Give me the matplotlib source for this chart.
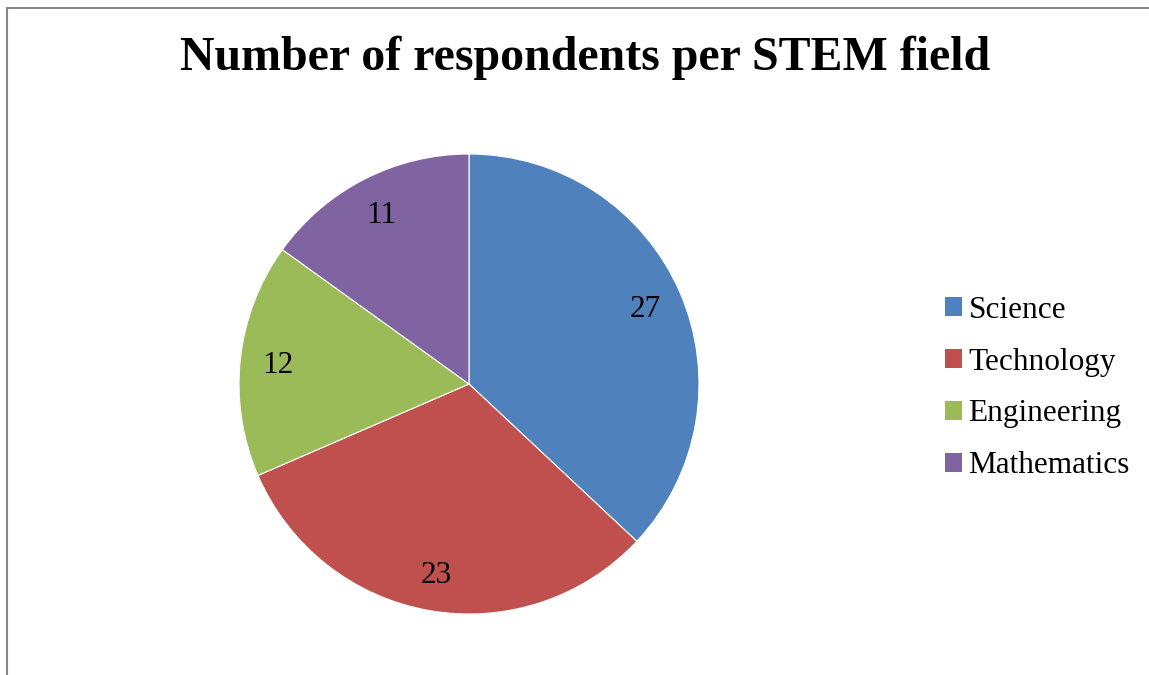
import matplotlib
matplotlib.use('Agg')
import matplotlib.pyplot as plt
from matplotlib.patches import Patch
from matplotlib.lines import Line2D

plt.rcParams['font.family'] = ['Liberation Serif', 'DejaVu Serif']

fields = ['Science', 'Technology', 'Engineering', 'Mathematics']
respondents = [27, 23, 12, 11]
colors = ['#4F81BD', '#C0504D', '#9BBB59', '#8064A2']

W, H = 1149, 675
fig = plt.figure(figsize=(W / 100, H / 100), dpi=100)

# chart frame (left and top edges visible)
fig.add_artist(Line2D([7 / W, 7 / W], [0, 1 - 8 / H], transform=fig.transFigure,
                      color='#888888', linewidth=1.5))
fig.add_artist(Line2D([7 / W, 1], [1 - 8 / H, 1 - 8 / H], transform=fig.transFigure,
                      color='#888888', linewidth=1.5))

cx, cy, r = 469, 384, 230
ax = fig.add_axes([(cx - r) / W, (H - cy - r) / H, 2 * r / W, 2 * r / H])
total = sum(respondents)
wedges, _, autotexts = ax.pie(respondents, colors=colors, startangle=90, counterclock=False,
                              radius=1, pctdistance=0.835,
                              autopct=lambda p: f'{round(p * total / 100)}',
                              wedgeprops=dict(edgecolor='white', linewidth=0.8),
                              textprops=dict(fontsize=22.5, color='black'))
for t in autotexts:
    x, y = t.get_position()
    t.set_position((x, y - 0.01))
ax.set_xlim(-1, 1)
ax.set_ylim(-1, 1)
ax.set_aspect('equal')
ax.axis('off')

fig.text(585 / W, 1 - 58 / H, 'Number of respondents per STEM field', ha='center', va='center',
         fontsize=34.5, fontweight='bold')

handles = [Patch(facecolor=c, edgecolor='none') for c in colors]
fig.legend(handles, fields, loc='center left', bbox_to_anchor=(917 / W, 1 - 388 / H),
           frameon=False, fontsize=22.5, handlelength=0.55, handleheight=0.55,
           handletextpad=0.2, labelspacing=0.73)

fig.savefig('out.png', dpi=100)
